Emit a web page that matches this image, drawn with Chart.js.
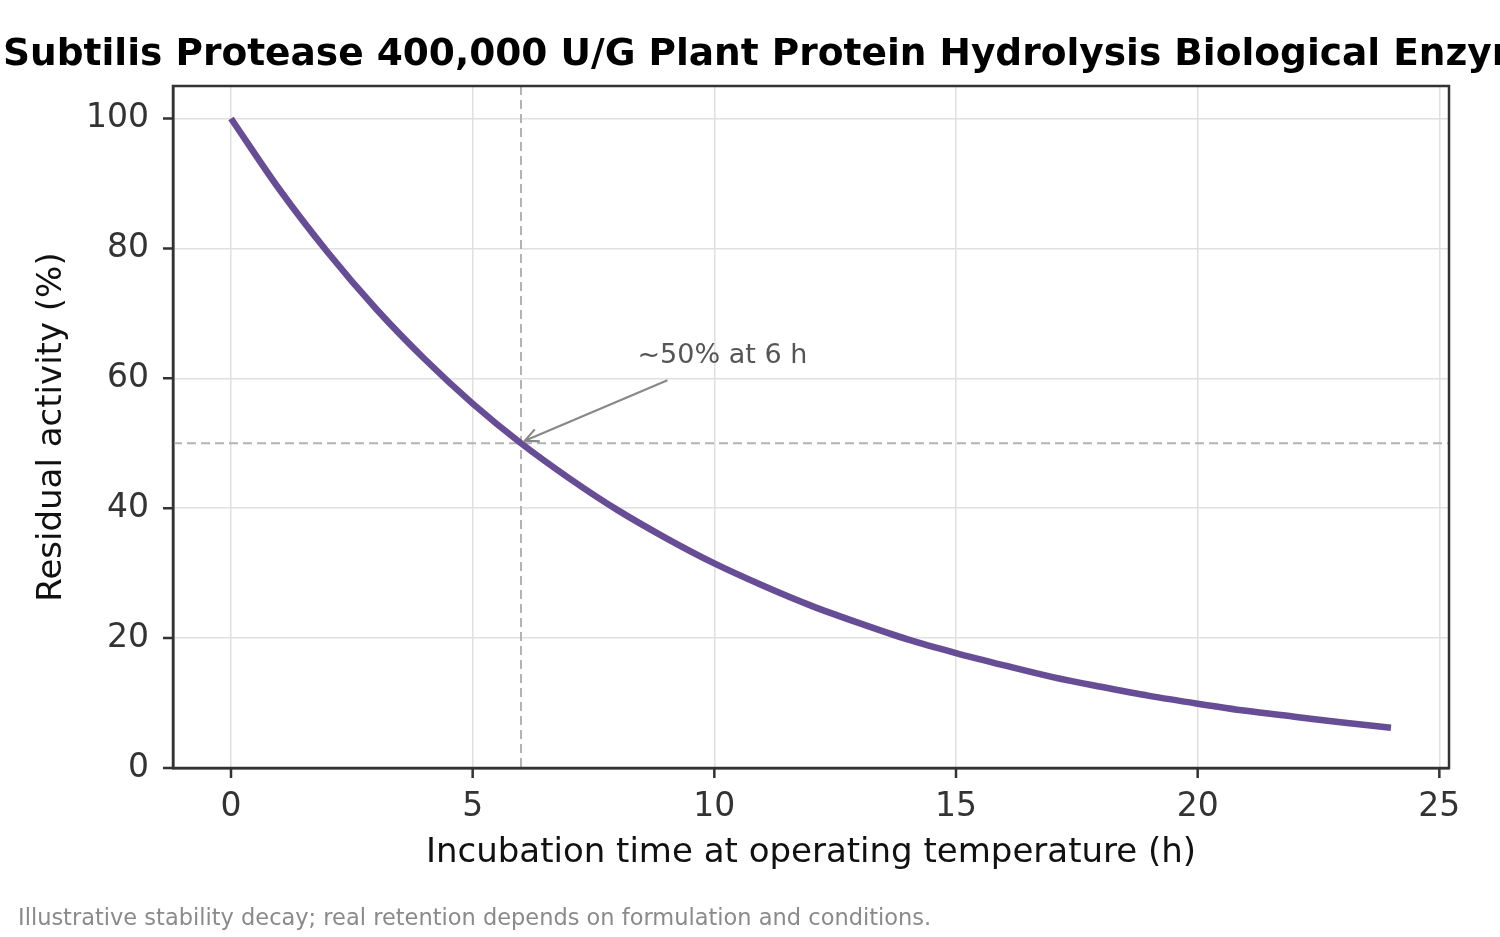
<!DOCTYPE html>
<html>
<head>
<meta charset="utf-8">
<script src="https://cdn.jsdelivr.net/npm/chart.js@4"></script>
<style>
  html, body { margin: 0; padding: 0; background: #fff; }
  #wrap { width: 1500px; height: 937px; position: relative; }
</style>
</head>
<body>
<div id="wrap"><canvas id="myChart" width="1500" height="937"></canvas></div>
<script>
// data
const hours = [0, 1, 2, 3, 4, 5, 6, 7, 8, 9, 10, 11, 12, 13, 14, 15, 16, 17, 18, 19, 20, 21, 22, 23, 24];
const activity = [100, 89.1, 79.4, 70.7, 63.0, 56.1, 50.0, 44.6, 39.7, 35.4, 31.5, 28.1, 25.0, 22.3, 19.8, 17.7, 15.8, 14.0, 12.5, 11.1, 9.9, 8.8, 7.9, 7.0, 6.2];
const xTicks = [0, 5, 10, 15, 20, 25];
const yTicks = [0, 20, 40, 60, 80, 100];
const refHour = 6;
const refLevel = 50;
const titleText = 'Subtilis Protease 400,000 U/G Plant Protein Hydrolysis Biological Enzyme';
const noteText = '~50% at 6 h';
const footText = 'Illustrative stability decay; real retention depends on formulation and conditions.';

const FONT = "'DejaVu Sans', sans-serif";

const points = hours.map((h, i) => ({x: h, y: activity[i]}));

// dashed guide lines, arrow, text
const extras = {
  id: 'extras',
  beforeDatasetsDraw(chart) {
    const {ctx, chartArea: a, scales: {x, y}} = chart;
    const px = x.getPixelForValue(refHour);
    const py = y.getPixelForValue(refLevel);
    ctx.save();
    ctx.strokeStyle = '#b3b3b3';
    ctx.lineWidth = 2;
    ctx.setLineDash([9, 5]);
    ctx.beginPath();
    ctx.moveTo(px, a.top); ctx.lineTo(px, a.bottom);
    ctx.moveTo(a.left, py); ctx.lineTo(a.right, py);
    ctx.stroke();
    ctx.restore();
  },
  afterDatasetsDraw(chart) {
    const {ctx, scales: {x, y}} = chart;
    // arrow
    const x0 = x.getPixelForValue(9.03), y0 = y.getPixelForValue(59.7);
    const x1 = x.getPixelForValue(6.08), y1 = y.getPixelForValue(50.4);
    ctx.save();
    ctx.strokeStyle = '#888';
    ctx.lineWidth = 2.2;
    ctx.beginPath();
    ctx.moveTo(x0, y0); ctx.lineTo(x1, y1);
    const ang = Math.atan2(y0 - y1, x0 - x1);
    const hl = 15;
    ctx.moveTo(x1 + hl * Math.cos(ang + 0.45), y1 + hl * Math.sin(ang + 0.45));
    ctx.lineTo(x1, y1);
    ctx.lineTo(x1 + hl * Math.cos(ang - 0.45), y1 + hl * Math.sin(ang - 0.45));
    ctx.stroke();
    ctx.fillStyle = '#555';
    ctx.font = '27px ' + FONT;
    ctx.textBaseline = 'middle';
    ctx.fillText(noteText, x.getPixelForValue(8.41), y.getPixelForValue(63.5));
    ctx.restore();
  },
  afterDraw(chart) {
    const {ctx, chartArea: a} = chart;
    ctx.save();
    // full frame round the plot
    ctx.strokeStyle = '#333';
    ctx.lineWidth = 2.5;
    ctx.strokeRect(a.left, a.top, a.right - a.left, a.bottom - a.top);
    ctx.fillStyle = '#000';
    ctx.font = 'bold 37.5px ' + FONT;
    ctx.textBaseline = 'alphabetic';
    ctx.fillText(titleText, 3, 65);
    ctx.fillStyle = '#8a8a8a';
    ctx.font = '22.5px ' + FONT;
    ctx.fillText(footText, 18, 925);
    ctx.restore();
  }
};

const ctx = document.getElementById('myChart').getContext('2d');
const myChart = new Chart(ctx, {
  type: 'line',
  data: {
    datasets: [{
      data: points,
      borderColor: '#674d95',
      borderWidth: 6.5,
      pointRadius: 0,
      cubicInterpolationMode: 'monotone',
      fill: false
    }]
  },
  options: {
    responsive: false,
    animation: false,
    events: [],
    layout: { padding: { top: 86, right: 51, bottom: 59, left: 0 } },
    plugins: {
      legend: { display: false },
      title: { display: false },
      tooltip: { enabled: false }
    },
    scales: {
      x: {
        type: 'linear',
        min: -1.2,
        max: 25.2,
        afterBuildTicks: s => { s.ticks = xTicks.map(v => ({value: v})); },
        afterFit: s => { s.height = 110; },
        grid: { color: '#e0e0e0', lineWidth: 1.5, drawTicks: false },
        border: { color: '#333', width: 2.5 },
        ticks: {
          color: '#333',
          font: { family: FONT, size: 33 },
          padding: 20,
          maxRotation: 0
        },
        title: {
          display: true,
          text: 'Incubation time at operating temperature (h)',
          color: '#111',
          font: { family: FONT, size: 34 },
          padding: { top: 0 }
        }
      },
      y: {
        min: 0,
        max: 105,
        afterBuildTicks: s => { s.ticks = yTicks.map(v => ({value: v})); },
        afterFit: s => { s.width = 173; },
        grid: { color: '#e0e0e0', lineWidth: 1.5, drawTicks: false },
        border: { color: '#333', width: 2.5 },
        ticks: {
          color: '#333',
          font: { family: FONT, size: 33 },
          padding: 24
        },
        title: {
          display: true,
          text: 'Residual activity (%)',
          color: '#111',
          font: { family: FONT, size: 34 },
          padding: { top: 32, bottom: 0 }
        }
      }
    }
  },
  plugins: [extras, {
    id: 'tickMarks',
    afterDraw(chart) {
      const {ctx, chartArea: a, scales: {x, y}} = chart;
      ctx.save();
      ctx.strokeStyle = '#333';
      ctx.lineWidth = 2.5;
      ctx.beginPath();
      xTicks.forEach(v => { const p = x.getPixelForValue(v); ctx.moveTo(p, a.bottom); ctx.lineTo(p, a.bottom + 10); });
      yTicks.forEach(v => { const p = y.getPixelForValue(v); ctx.moveTo(a.left, p); ctx.lineTo(a.left - 10, p); });
      ctx.stroke();
      ctx.restore();
    }
  }]
});
</script>
</body>
</html>
